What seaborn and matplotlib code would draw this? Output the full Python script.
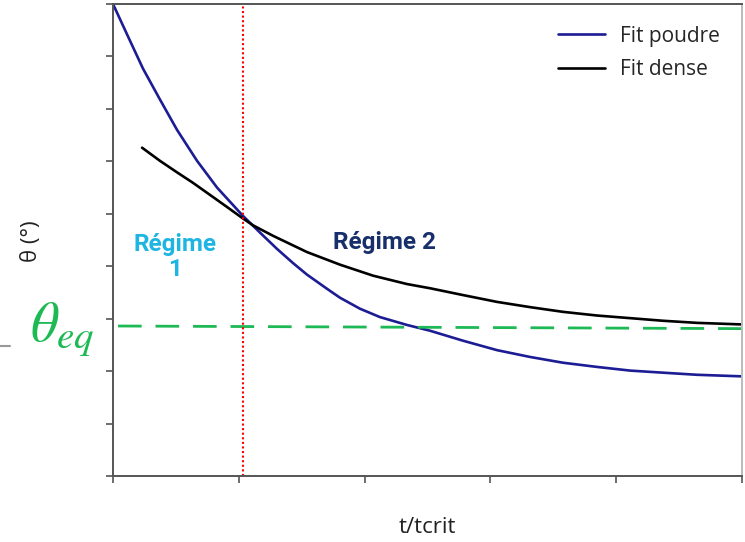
import matplotlib
matplotlib.use("Agg")
import matplotlib.pyplot as plt
import seaborn as sns
import pandas as pd
from matplotlib.lines import Line2D

# Data
poudre_x = [0.000, 0.135, 0.238, 0.373, 0.509, 0.668, 0.827, 1.033, 1.169, 1.304, 1.431,
            1.542, 1.701, 1.804, 1.963, 2.122, 2.337, 2.520, 2.782, 3.052, 3.315, 3.577,
            3.847, 4.110, 4.372, 4.642, 5.000]
poudre_y = [9.00, 8.30, 7.77, 7.18, 6.60, 6.01, 5.50, 4.96, 4.64, 4.33, 4.06,
            3.84, 3.57, 3.40, 3.19, 3.03, 2.88, 2.77, 2.58, 2.40, 2.27, 2.16,
            2.08, 2.01, 1.97, 1.93, 1.90]
dense_x = [0.231, 0.373, 0.509, 0.636, 0.771, 0.906, 1.033, 1.113, 1.272, 1.542, 1.804,
           2.067, 2.337, 2.520, 2.782, 3.052, 3.315, 3.577, 3.847, 4.110, 4.372, 4.642, 5.000]
dense_y = [6.26, 6.01, 5.79, 5.59, 5.36, 5.13, 4.91, 4.78, 4.58, 4.27, 4.03,
           3.82, 3.66, 3.58, 3.45, 3.32, 3.22, 3.13, 3.06, 3.01, 2.96, 2.92, 2.89]
eq_x = [0.04, 5.0]
eq_y = [2.86, 2.81]
t_crit = 1.03
labels = ["Fit poudre", "Fit dense"]

df = pd.concat([
    pd.DataFrame({"x": poudre_x, "y": poudre_y, "fit": labels[0]}),
    pd.DataFrame({"x": dense_x, "y": dense_y, "fit": labels[1]}),
])

sns.set_theme(style="white")
plt.rcParams["font.family"] = ["Open Sans", "DejaVu Sans"]
plt.rcParams["mathtext.fontset"] = "stix"

fig = plt.figure(figsize=(7.45, 5.42), dpi=100)
ax = fig.add_axes([113 / 745, 1 - 476 / 542, (742 - 113) / 745, (476 - 4) / 542])

sns.lineplot(data=df, x="x", y="y", hue="fit", palette={labels[0]: "#1c1c94", labels[1]: "black"},
             linewidth=1.9, ax=ax, sort=False, legend=True)
sns.lineplot(x=eq_x, y=eq_y, color="#1db954", linewidth=2.0, ax=ax)
ax.lines[-1].set_dashes([8.5, 5])
ax.axvline(t_crit, color="red", linestyle=(0, (1, 1.2)), linewidth=1.5)

for ln in ax.lines:
    ln.set_solid_joinstyle("round")
    ln.set_solid_capstyle("round")

ax.set_xlim(0, 5)
ax.set_ylim(0, 9)
ax.set_xticks(range(0, 6))
ax.set_yticks(range(0, 10))
ax.set_xticklabels([])
ax.set_yticklabels([])
ax.tick_params(axis="both", direction="out", length=5, width=1.2, color="#555555",
               bottom=True, left=True)
for s in ax.spines.values():
    s.set_color("#555555")
    s.set_linewidth(1.4)
ax.spines["right"].set_color("#bbbbbb")

ax.set_xlabel("t/tcrit", fontsize=16, color="#222222")
ax.xaxis.set_label_coords(0.5, (476 - 517) / 472)
ax.set_ylabel("θ (°)", fontsize=16, color="#222222")
ax.yaxis.set_label_coords((42 - 113) / 629, (476 - 241) / 472)

h, l = ax.get_legend_handles_labels()
ax.legend(h[:2], l[:2], frameon=False, fontsize=15, loc="upper left",
          bbox_to_anchor=(539 / 745, 1 - 7 / 542), bbox_transform=fig.transFigure,
          handlelength=2.26, labelspacing=0.59, handletextpad=0.72)

ax.text(0.49, 4.18, "Régime\n1", color="#1fb5e3", fontsize=17.5, fontweight="bold",
        family=["Roboto", "DejaVu Sans"], ha="center", va="center", linespacing=1.1)
ax.text(2.16, 4.45, "Régime 2", color="#172f6a", fontsize=17.5, fontweight="bold",
        family=["Roboto", "DejaVu Sans"], ha="center", va="center")

fig.text(62 / 745, 1 - 330 / 542, r"$\theta_{eq}$", color="#1db954", fontsize=40,
         ha="center", va="center")
fig.add_artist(Line2D([0, 10 / 745], [1 - 346 / 542, 1 - 346 / 542], color="#999999",
                      linewidth=1.5, transform=fig.transFigure))

fig.savefig("out.png", dpi=100)
